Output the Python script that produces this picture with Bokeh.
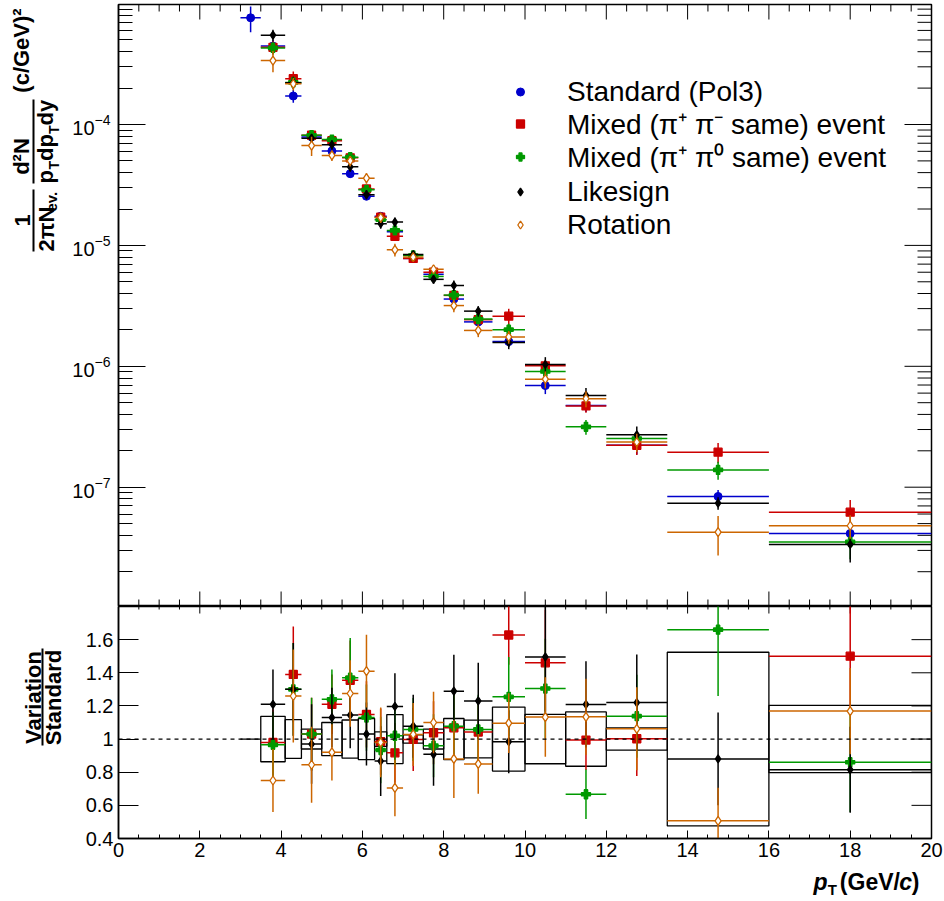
import numpy as np
from bokeh.plotting import figure
from bokeh.layouts import row, column
from bokeh.models import (Range1d, SingleIntervalTicker, FixedTicker, LogTicker, Legend, LegendItem, Span)
from bokeh.core.properties import value
from bokeh.embed import file_html
from bokeh.resources import INLINE

FONT = "Liberation Sans"

# ---- pT binning (GeV/c) ----
bin_lo = [3.0, 3.5, 4.1, 4.5, 5.0, 5.5, 5.9, 6.3, 6.6, 7.0, 7.5, 8.0, 8.5, 9.2, 10.0, 11.0, 12.0, 13.5, 16.0]
bin_hi = [3.5, 4.1, 4.5, 5.0, 5.5, 5.9, 6.3, 6.6, 7.0, 7.5, 8.0, 8.5, 9.2, 10.0, 11.0, 12.0, 13.5, 16.0, 20.0]
pt = [3.25, 3.8, 4.3, 4.75, 5.25, 5.7, 6.1, 6.45, 6.8, 7.25, 7.75, 8.25, 8.85, 9.6, 10.5, 11.5, 12.75, 14.75, 18.0]

# ---- invariant yields ----
yield_standard = [7.63e-4, 4.45e-4, 1.72e-4, 7.9e-5, 6.05e-5, 3.92e-5, 2.55e-5, 1.74e-5, 1.30e-5, 7.8e-6,
                  5.77e-6, 3.6e-6, 2.33e-6, 1.60e-6, 6.93e-7, 4.75e-7, 2.22e-7, 8.38e-8, 4.14e-8]
relerr_standard = [0.24, 0.12, 0.12, 0.07, 0.07, 0.07, 0.07, 0.06, 0.07, 0.05, 0.06, 0.07, 0.08, 0.10,
                   0.15, 0.12, 0.16, 0.13, 0.20]

# the variations start at the second bin
yield_mixed_pm = [4.35e-4, 2.39e-4, 8.15e-5, 7.35e-5, 5.3e-5, 2.93e-5, 1.71e-5, 1.19e-5, 7.8e-6, 6.0e-6,
                  3.86e-6, 2.43e-6, 2.60e-6, 1.01e-6, 4.7e-7, 2.22e-7, 1.95e-7, 6.21e-8]
yield_mixed_p0 = [4.3e-4, 2.23e-4, 8.15e-5, 7.5e-5, 5.37e-5, 2.88e-5, 1.63e-5, 1.33e-5, 8.25e-6, 5.54e-6,
                  3.88e-6, 2.46e-6, 2.01e-6, 9.06e-7, 3.16e-7, 2.53e-7, 1.39e-7, 3.53e-8]
yield_likesign = [5.48e-4, 2.22e-4, 7.7e-5, 6.8e-5, 4.47e-5, 2.63e-5, 1.51e-5, 1.56e-5, 8.4e-6, 5.24e-6,
                  4.66e-6, 2.86e-6, 1.575e-6, 1.035e-6, 5.74e-7, 2.71e-7, 7.38e-8, 3.36e-8]
yield_rotation = [3.38e-4, 2.17e-4, 6.7e-5, 5.55e-5, 5.0e-5, 3.6e-5, 1.70e-5, 9.2e-6, 8.0e-6, 6.35e-6,
                  3.18e-6, 1.98e-6, 1.75e-6, 7.82e-7, 5.4e-7, 2.36e-7, 4.25e-8, 4.80e-8]

relerr_mixed_pm = [0.12, 0.15, 0.07, 0.08, 0.08, 0.08, 0.07, 0.08, 0.05, 0.06, 0.08, 0.08, 0.15, 0.12, 0.12, 0.17, 0.19, 0.26]
relerr_mixed_p0 = [0.12, 0.12, 0.07, 0.08, 0.09, 0.08, 0.07, 0.08, 0.05, 0.06, 0.08, 0.08, 0.12, 0.12, 0.14, 0.15, 0.17, 0.28]
relerr_likesign = [0.11, 0.12, 0.08, 0.09, 0.09, 0.09, 0.09, 0.09, 0.07, 0.08, 0.10, 0.10, 0.12, 0.15, 0.15, 0.17, 0.12, 0.29]
relerr_rotation = [0.20, 0.12, 0.18, 0.10, 0.10, 0.10, 0.10, 0.12, 0.07, 0.08, 0.12, 0.12, 0.12, 0.16, 0.15, 0.17, 0.36, 0.22]

# ---- ratios to the standard method ----
ratio_mixed_pm = [0.98, 1.39, 1.03, 1.21, 1.355, 1.149, 0.984, 0.917, 0.998, 1.038, 1.068, 1.042, 1.628, 1.46,
                  0.994, 1.002, 2.32, 1.50]
ratio_mixed_p0 = [0.965, 1.30, 1.03, 1.24, 1.37, 1.13, 0.934, 1.02, 1.058, 0.96, 1.078, 1.058, 1.255, 1.305,
                  0.667, 1.138, 1.66, 0.86]
ratio_likesign = [1.21, 1.30, 0.97, 1.13, 1.145, 1.03, 0.867, 1.197, 1.078, 0.908, 1.289, 1.23, 0.984, 1.496,
                  1.209, 1.22, 0.88, 0.815]
ratio_rotation = [0.75, 1.26, 0.845, 0.92, 1.275, 1.41, 0.98, 0.705, 1.028, 1.10, 0.88, 0.85, 1.096, 1.133,
                  1.134, 1.062, 0.507, 1.169]

ratio_err_mixed_pm = [0.20, 0.29, 0.22, 0.18, 0.24, 0.20, 0.20, 0.18, 0.19, 0.19, 0.21, 0.21, 0.18, 0.32, 0.18, 0.225, 0.50, 0.35]
ratio_err_mixed_p0 = [0.20, 0.28, 0.22, 0.18, 0.24, 0.20, 0.20, 0.18, 0.19, 0.19, 0.21, 0.21, 0.24, 0.30, 0.15, 0.25, 0.40, 0.30]
ratio_err_likesign = [0.21, 0.28, 0.24, 0.18, 0.20, 0.19, 0.21, 0.20, 0.19, 0.19, 0.22, 0.23, 0.19, 0.33, 0.26, 0.29, 0.28, 0.26]
ratio_err_rotation = [0.19, 0.28, 0.23, 0.17, 0.20, 0.22, 0.21, 0.17, 0.19, 0.185, 0.235, 0.18, 0.18, 0.24, 0.23, 0.25, 0.20, 0.26]

# half-height of the standard's uncertainty band around unity
band_half = [0.0, 0.137, 0.117, 0.06, 0.10, 0.115, 0.124, 0.044, 0.148, 0.025, 0.06, 0.124, 0.114, 0.193,
             0.149, 0.164, 0.067, 0.524, 0.203]

series = [
    # label, yields, rel. errors, ratio, ratio err, colour, marker, size
    ("Mixed (\u03c0\u207a \u03c0\u207b same) event", yield_mixed_pm, relerr_mixed_pm, ratio_mixed_pm, ratio_err_mixed_pm, "#cc0000", "square", 8),
    ("Mixed (\u03c0\u207a \u03c0\u2070 same) event", yield_mixed_p0, relerr_mixed_p0, ratio_mixed_p0, ratio_err_mixed_p0, "#009900", "plus", 9),
    ("Likesign", yield_likesign, relerr_likesign, ratio_likesign, ratio_err_likesign, "#000000", "diamond", 8),
    ("Rotation", yield_rotation, relerr_rotation, ratio_rotation, ratio_err_rotation, "#cc6600", "diamond", 9),
]
STD_COLOR = "#0000cc"

# ---- geometry ----
W, H = 944, 901
LAB_W = 68
LEFT, RIGHT = 118, 13
TOP_H = 606               # top border + upper frame
BOT_H = 262               # lower frame + tick labels
XT_H = H - TOP_H - BOT_H  # strip holding the x-axis title
FRAME_W = W - LEFT - RIGHT
TOP_FRAME_H = TOP_H - 4
BOT_FRAME_H = 232

X0, X1 = 0.0, 20.0
Y_LO, Y_HI = 1.031e-8, 9.83e-4
R_LO, R_HI = 0.4, 1.8

PX_X = FRAME_W / (X1 - X0)                            # px per GeV/c
PX_DEC = TOP_FRAME_H / np.log10(Y_HI / Y_LO)          # px per decade
PX_R = BOT_FRAME_H / (R_HI - R_LO)                    # px per unit ratio

x_major = np.arange(0, 20.01, 2.0)
x_minor = np.array([v for v in np.arange(0, 20.01, 0.5) if v % 2])
y_major = 10.0 ** np.arange(-8, -2)
y_minor = np.array([k * 10.0 ** n for n in range(-8, -3) for k in range(2, 10)])
r_major = np.array([0.4, 0.6, 0.8, 1.0, 1.2, 1.4, 1.6])

# vertical centre (px from the top of the page) of each legend row
legend_rows = [91, 125, 158, 191, 224]


def style_fig(p):
    p.grid.grid_line_color = None
    p.outline_line_color = "black"
    p.outline_line_width = 1.5
    p.background_fill_color = "white"
    p.border_fill_color = "white"


def tick_segs(p, xs, ys, xe, ye):
    p.segment(x0=xs, y0=ys, x1=xe, y1=ye, line_color="black", line_width=1)


# ================= upper panel: spectra =================
top = figure(width=W - LAB_W, height=TOP_H, x_range=Range1d(X0, X1), y_range=Range1d(Y_LO, Y_HI),
             y_axis_type="log", x_axis_location=None, y_axis_location="left",
             output_backend="svg", toolbar_location=None,
             min_border_left=LEFT - LAB_W, min_border_right=RIGHT, min_border_top=4, min_border_bottom=0)
style_fig(top)

ya = top.yaxis[0]
ya.ticker = LogTicker(num_minor_ticks=10)
ya.major_tick_in, ya.major_tick_out = 27, 0
ya.minor_tick_in, ya.minor_tick_out = 14, 0
ya.axis_line_width = 1.5
ya.major_label_text_font = FONT
ya.major_label_text_font_size = "20px"
ya.major_label_text_color = "black"
ya.major_label_standoff = 8

# tick marks on the other three sides of the upper frame
for xs, L in ((x_major, 15), (x_minor, 7)):
    tick_segs(top, xs, np.full(len(xs), Y_HI), xs, np.full(len(xs), Y_HI / 10 ** (L / PX_DEC)))
    tick_segs(top, xs, np.full(len(xs), Y_LO), xs, np.full(len(xs), Y_LO * 10 ** (L / PX_DEC)))
for ys, L in ((y_major, 27), (y_minor, 14)):
    tick_segs(top, np.full(len(ys), X1), ys, np.full(len(ys), X1 - L / PX_X), ys)

legend_items = []

# standard
x = np.array(pt)
y = np.array(yield_standard)
e = y * np.array(relerr_standard)
top.segment(x0=bin_lo, x1=bin_hi, y0=y, y1=y, line_color=STD_COLOR, line_width=1.5)
top.segment(x0=x, x1=x, y0=y - e, y1=y + e, line_color=STD_COLOR, line_width=1.5)
r = top.scatter(x, y, marker="circle", size=8, fill_color=STD_COLOR, line_color=STD_COLOR)
legend_items.append(LegendItem(label="Standard (Pol3)", renderers=[r]))

for label, yy, rel, rat, raterr, col, mk, sz in series:
    x = np.array(pt[1:])
    y = np.array(yy)
    e = y * np.array(rel)
    top.segment(x0=bin_lo[1:], x1=bin_hi[1:], y0=y, y1=y, line_color=col, line_width=1.5)
    top.segment(x0=x, x1=x, y0=y - e, y1=y + e, line_color=col, line_width=1.5)
    fill = "white" if label == "Rotation" else col
    r = top.scatter(x, y, marker=mk, size=sz, fill_color=fill, line_color=col, line_width=1.3)
    legend_items.append(LegendItem(label=label, renderers=[r]))

# one single-row legend per entry so the rows sit at the wanted pitch
for item, yc in zip(legend_items, legend_rows):
    top.add_layout(Legend(items=[item], location=(392, TOP_H - yc - 17), orientation="vertical",
                          label_text_font=FONT, label_text_font_size="28px", label_text_color="black",
                          glyph_width=20, glyph_height=33, label_height=33, label_standoff=37,
                          spacing=0, padding=2, margin=0, border_line_color=None,
                          background_fill_alpha=0.0))

# ================= lower panel: ratios =================
bot = figure(width=W - LAB_W, height=BOT_H, x_range=Range1d(X0, X1), y_range=Range1d(R_LO, R_HI),
             x_axis_location="below", y_axis_location="left",
             output_backend="svg", toolbar_location=None,
             min_border_left=LEFT - LAB_W, min_border_right=RIGHT, min_border_top=0,
             min_border_bottom=BOT_H - BOT_FRAME_H)
style_fig(bot)

xa = bot.xaxis[0]
xa.ticker = SingleIntervalTicker(interval=2, num_minor_ticks=4)
xa.major_tick_in, xa.major_tick_out = 8, 0
xa.minor_tick_in, xa.minor_tick_out = 4, 0
xa.axis_line_width = 1.5
xa.major_label_text_font = FONT
xa.major_label_text_font_size = "20px"
xa.major_label_text_color = "black"
xa.major_label_standoff = 4

yb = bot.yaxis[0]
yb.ticker = FixedTicker(ticks=list(r_major), minor_ticks=[])
yb.major_label_overrides = {1: "1"}
yb.major_tick_in, yb.major_tick_out = 20, 0
yb.minor_tick_in, yb.minor_tick_out = 0, 0
yb.axis_line_width = 1.5
yb.major_label_text_font = FONT
yb.major_label_text_font_size = "20px"
yb.major_label_text_color = "black"
yb.major_label_standoff = 5

for xs, L in ((x_major, 7), (x_minor, 3)):
    tick_segs(bot, xs, np.full(len(xs), R_HI), xs, np.full(len(xs), R_HI - L / PX_R))
tick_segs(bot, np.full(len(r_major), X1), r_major, np.full(len(r_major), X1 - 20 / PX_X), r_major)

bh = np.array(band_half)
bot.quad(left=bin_lo, right=bin_hi, bottom=1 - bh, top=1 + bh, fill_alpha=0,
         line_color="black", line_width=1.3)
bot.add_layout(Span(location=1.0, dimension="width", line_color="black", line_width=1.2, line_dash="4 4"))

for label, yy, rel, rat, raterr, col, mk, sz in series:
    x = np.array(pt[1:])
    y = np.array(rat)
    e = np.array(raterr)
    bot.segment(x0=bin_lo[1:], x1=bin_hi[1:], y0=y, y1=y, line_color=col, line_width=1.5)
    bot.segment(x0=x, x1=x, y0=y - e, y1=y + e, line_color=col, line_width=1.5)
    fill = "white" if label == "Rotation" else col
    bot.scatter(x, y, marker=mk, size=sz, fill_color=fill, line_color=col, line_width=1.3)

# ================= strip below: x-axis title p_T (GeV/c) =================
xt = figure(width=W - LAB_W, height=XT_H, x_range=Range1d(LAB_W, W), y_range=Range1d(H, TOP_H + BOT_H),
            x_axis_location=None, y_axis_location=None, output_backend="svg", toolbar_location=None,
            min_border=0, outline_line_color=None)
xt.grid.grid_line_color = None
xt.border_fill_color = "white"
xt.background_fill_color = "white"


def htext(px, py, s, size, style="bold", align="right"):
    xt.text(x=[px], y=[py], text=[s], text_font=value(FONT), text_font_size=size,
            text_font_style=style, text_align=align, text_baseline="middle", text_color="black")


# pieces laid out right to left from the end of the axis
htext(931, 881, ")", "23px")
htext(923, 881, "c", "23px", "bold italic")
htext(910, 881, "(GeV/", "23px")
htext(842, 889, "T", "15px")
htext(832, 881, "p", "23px", "bold italic")

# ================= left strip: y-axis titles =================
lab = figure(width=LAB_W, height=H, x_range=Range1d(0, LAB_W), y_range=Range1d(H, 0),
             x_axis_location=None, y_axis_location=None, output_backend="svg", toolbar_location=None,
             min_border=0, outline_line_color=None)
lab.grid.grid_line_color = None
lab.border_fill_color = "white"
lab.background_fill_color = "white"

ANG = np.pi / 2


def vtext(px, py, s, size, align="center", style="bold"):
    lab.text(x=[px], y=[py], text=[s], angle=ANG, text_font=value(FONT), text_font_size=size,
             text_font_style=style, text_align=align, text_baseline="middle", text_color="black")


# 1 / (2pi N_ev.)
vtext(22, 220, "1", "22px")
lab.segment(x0=[33], y0=[189], x1=[33], y1=[251], line_color="black", line_width=2)
vtext(46, 251, "2\u03c0N", "22px", align="left")
vtext(51, 211, "ev.", "15px", align="left")
# d2N / (pT dpT dy)
vtext(21, 156, "d\u00b2N", "22px")
lab.segment(x0=[33], y0=[99], x1=[33], y1=[183], line_color="black", line_width=2)
vtext(45, 183, "p", "22px", align="left")
vtext(53, 169, "T", "14px", align="left")
vtext(45, 160.5, "dp", "22px", align="left")
vtext(53, 133.5, "T", "14px", align="left")
vtext(45, 125, "dy", "22px", align="left")
# (c/GeV)^2
vtext(21, 50, "(c/GeV)\u00b2", "22px")

# Variation / Standard
vtext(33, 697, "Variation", "22px")
lab.segment(x0=[42], y0=[648], x1=[42], y1=[745], line_color="black", line_width=2)
vtext(53, 697, "Standard", "22px")

layout = row(lab, column(top, bot, xt))
open("out.html", "w").write(file_html(layout, INLINE))
